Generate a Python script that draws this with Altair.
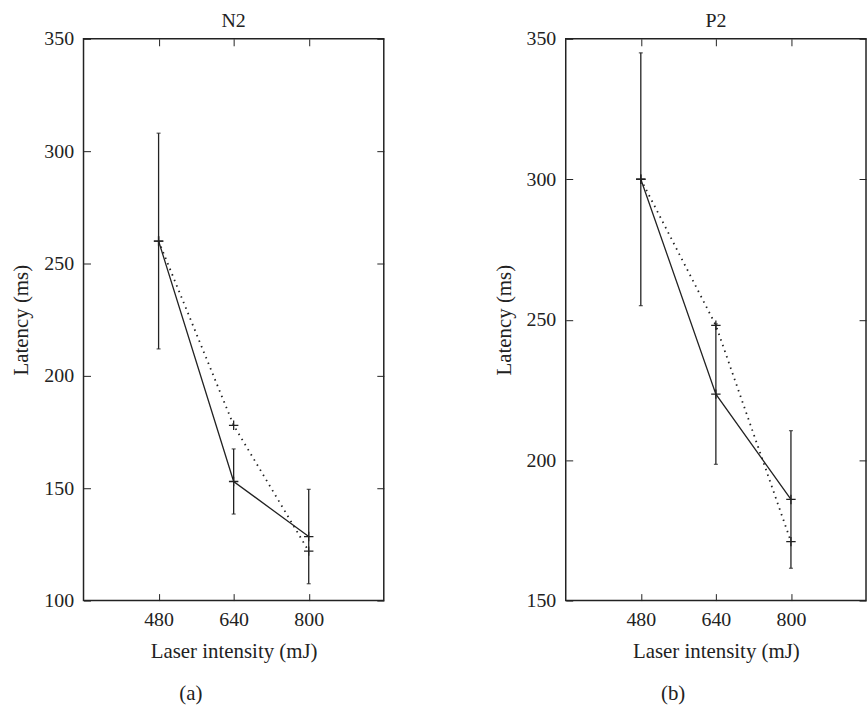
import altair as alt
import pandas as pd

# ---- data ----
intensity = [480, 640, 800]
x_ticks = [480, 640, 800]

n2_mean = [260, 153, 128.5]
n2_err = [48, 14.5, 21]
n2_fit = [260, 178, 122]

p2_mean = [300, 223.5, 186]
p2_err = [45, 25, 24.5]
p2_fit = [300, 248, 171]

n2_yticks = [100, 150, 200, 250, 300, 350]
p2_yticks = [150, 200, 250, 300, 350]

FONT = "'Liberation Serif', 'Times New Roman', Times, 'DejaVu Serif', serif"
INK = "#222222"
PLUS = "M-1,0H1M0,-1V1"
W, H = 302, 565


def panel(name, caption, mean, err, fit, ydomain, yticks):
    df = pd.DataFrame({
        "x": intensity,
        "mean": mean,
        "lo": [m - e for m, e in zip(mean, err)],
        "hi": [m + e for m, e in zip(mean, err)],
        "fit": fit,
    })
    xs = alt.Scale(domain=[320, 960], nice=False, zero=False)
    ys = alt.Scale(domain=ydomain, nice=False, zero=False)
    common = dict(offset=-7, tickSize=7, tickColor=INK, tickWidth=1,
                  domain=False, grid=False,
                  labelFont=FONT, titleFont=FONT, labelFontSize=20,
                  titleFontSize=21, labelColor=INK, titleColor=INK,
                  titleFontWeight="normal")
    x_main = alt.X("x:Q", scale=xs, axis=alt.Axis(
        orient="bottom", values=x_ticks, title="Laser intensity (mJ)",
        labelPadding=9, titlePadding=11, **common))
    y_main = alt.Y("mean:Q", scale=ys, axis=alt.Axis(
        orient="left", values=yticks, title="Latency (ms)",
        labelPadding=10, titlePadding=12, **common))
    x_mirror = alt.X("x:Q", scale=xs, axis=alt.Axis(
        orient="top", values=x_ticks, labels=False, title=None, **common))
    y_mirror = alt.Y("fit:Q", scale=ys, axis=alt.Axis(
        orient="right", values=yticks, labels=False, title=None, **common))
    xp = alt.X("x:Q", scale=xs, axis=None)

    def yp(field):
        return alt.Y(field + ":Q", scale=ys, axis=None)

    base = alt.Chart(df)
    fit_line = base.mark_line(color=INK, strokeWidth=1.8, strokeDash=[1.5, 4.5],
                              strokeCap="butt").encode(x=x_mirror, y=y_mirror)
    mean_line = base.mark_line(color=INK, strokeWidth=1.3).encode(x=x_main, y=y_main)
    bars = base.mark_rule(color=INK, strokeWidth=1.3).encode(x=xp, y=yp("lo"), y2="hi:Q")
    cap_lo = base.mark_tick(orient="horizontal", size=4, thickness=1.3,
                            color=INK).encode(x=xp, y=yp("lo"))
    cap_hi = base.mark_tick(orient="horizontal", size=4, thickness=1.3,
                            color=INK).encode(x=xp, y=yp("hi"))
    pts_mean = base.mark_point(shape=PLUS, size=90, strokeWidth=1.3, color=INK,
                               filled=False, opacity=1).encode(x=xp, y=yp("mean"))
    pts_fit = base.mark_point(shape=PLUS, size=90, strokeWidth=1.3, color=INK,
                              filled=False, opacity=1).encode(x=xp, y=yp("fit"))
    labels = alt.Chart(pd.DataFrame({"t": [name, caption],
                                     "kind": ["title", "caption"]}))
    title_text = labels.transform_filter(alt.datum.kind == "title").mark_text(
        font=FONT, fontSize=20, color=INK, baseline="alphabetic", align="center"
    ).encode(text="t:N", x=alt.value(W / 2), y=alt.value(-12))
    cap_text = labels.transform_filter(alt.datum.kind == "caption").mark_text(
        font=FONT, fontSize=21, color=INK, baseline="middle", align="center"
    ).encode(text="t:N", x=alt.value(W / 2 - 43), y=alt.value(H + 94))

    return alt.layer(
        fit_line, mean_line, bars, cap_lo, cap_hi, pts_mean, pts_fit,
        title_text, cap_text
    ).resolve_axis(x="independent", y="independent").properties(
        width=W, height=H,
    )


left = panel("N2", "(a)", n2_mean, n2_err, n2_fit, [100, 350], n2_yticks)
right = panel("P2", "(b)", p2_mean, p2_err, p2_fit, [150, 350], p2_yticks)

chart = alt.hconcat(left, right, spacing=183, bounds="flush").configure_view(
    stroke=INK, strokeWidth=1.5
).properties(
    padding={"left": 10, "top": 8, "right": 0, "bottom": 0}
)

chart.save("out.html", embed_options={"renderer": "svg", "actions": False})
